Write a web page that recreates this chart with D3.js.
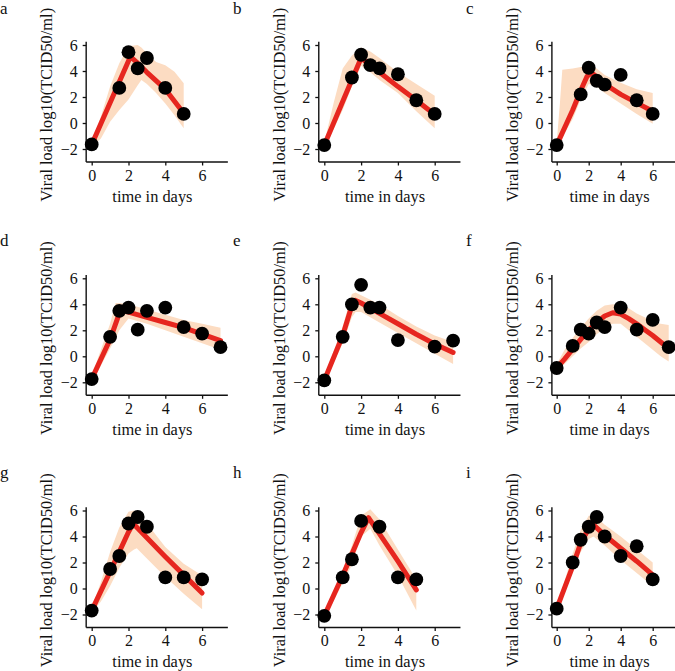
<!DOCTYPE html>
<html><head><meta charset="utf-8">
<script src="https://cdn.jsdelivr.net/npm/d3@7"></script>
<style>
html,body{margin:0;padding:0;background:#fff;}
svg{display:block;}
text{font-family:"Liberation Serif","Times New Roman",serif;fill:#111;}
</style></head>
<body>
<svg id="chart" width="675" height="671"></svg>
<script>
// ---------- data ----------
const panelLabels = ["a","b","c","d","e","f","g","h","i"];
const xTicks = [0, 2, 4, 6];
const yTicks = [-2, 0, 2, 4, 6];
const xTitle = "time in days";
const yTitle = "Viral load log10(TCID50/ml)";

const aDays = [0,1.5,2,2.5,3,4,5];
const aLoad = [-1.65,2.7,5.45,4.2,5.0,2.7,0.7];
const aFitDays = [0,2.1,2.5,3,4,5];
const aFit = [-1.65,5.1,4.6,3.9,2.6,0.75];
const aBandDays = [0,0.5,1,1.5,2,2.5,2.7,3,3.5,4,4.5,5];
const aUpper = [-1.5,0.5,2.8,4.6,5.9,6.0,5.8,5.35,4.7,4.45,3.95,3.05];
const aLower = [-1.8,-1.2,0.1,1.0,1.8,2.9,3.3,3.0,2.3,1.5,0.6,-0.4];

const bDays = [0,1.5,2,2.5,3,4,5,6];
const bLoad = [-1.7,3.5,5.25,4.45,4.2,3.75,1.75,0.7];
const bFitDays = [0,1,2,3,4,5,6];
const bFit = [-1.7,1.65,5.0,3.9,2.8,1.75,0.65];
const bBandDays = [0,0.5,1,1.5,2,2.5,3,4,5,6];
const bUpper = [-1.5,1.5,4.2,5.2,5.8,5.5,5.0,3.9,3.0,2.1];
const bLower = [-1.9,-0.5,1.0,2.8,4.4,3.9,3.3,2.3,0.9,-0.4];

const cDays = [0,1.5,2,2.5,3,4,5,6];
const cLoad = [-1.7,2.2,4.25,3.25,2.95,3.7,1.75,0.7];
const cFitDays = [0,1,1.5,1.9,2.2,3,4,5,6];
const cFit = [-1.7,1.0,2.5,3.6,3.85,3.0,2.2,1.55,0.9];
const cBandDays = [0,0.2,0.35,1,1.5,2,2.5,3,4,5,6];
const cUpper = [-1.5,1.5,4.1,4.2,4.3,4.4,4.2,3.7,3.1,2.6,2.3];
const cLower = [-1.8,-1.4,-1.1,0.3,1.8,3.0,2.8,2.3,1.5,0.7,-0.05];

const dDays = [0,1,1.5,2,2.5,3,4,5,6,7];
const dLoad = [-1.75,1.5,3.5,3.75,2.05,3.5,3.75,2.25,1.75,0.7];
const dFitDays = [0,1,1.5,1.7,2,3,4,5,6,7];
const dFit = [-1.75,1.3,3.3,3.5,3.4,3.0,2.6,2.2,1.7,1.2];
const dBandDays = [0,0.5,1,1.3,1.5,2,3,4,5,6,7];
const dUpper = [-1.5,0.5,2.5,4.1,4.1,4.0,3.6,3.2,2.8,2.5,2.2];
const dLower = [-2.0,-0.7,0.6,1.4,2.0,2.9,2.5,2.0,1.5,1.0,0.5];

const eDays = [0,1,1.5,2,2.5,3,4,6,7];
const eLoad = [-1.85,1.5,4.0,5.5,3.75,3.75,1.25,0.75,1.2];
const eFitDays = [0,1,1.5,1.7,2,3,4,5,6,7];
const eFit = [-1.85,1.6,3.9,4.3,4.1,3.3,2.5,1.7,0.95,0.3];
const eBandDays = [0,1,1.5,1.7,2,3,4,5,6,7];
const eUpper = [-1.6,2.3,4.8,4.9,4.7,4.0,3.1,2.3,1.6,1.1];
const eLower = [-2.1,1.0,3.0,3.4,3.4,2.6,1.8,1.0,0.2,-0.6];

const fDays = [0,1,1.5,2,2.5,3,4,5,6,7];
const fLoad = [-0.9,0.8,2.05,1.75,2.6,2.25,3.75,2.05,2.8,0.7];
const fFitDays = [0,0.5,1,1.5,2,2.5,3,3.5,4,4.5,5,5.5,6,6.5,7];
const fFit = [-0.9,-0.2,0.55,1.3,2.0,2.6,3.1,3.35,3.25,2.9,2.5,2.05,1.6,1.1,0.6];
const fBandDays = [0,0.5,1,1.5,2,2.5,3,3.5,4,4.5,5,5.5,6,6.5,7];
const fUpper = [-0.6,0.5,1.4,2.2,2.9,3.5,3.9,4.0,3.9,3.7,3.3,3.0,2.6,2.5,2.4];
const fLower = [-1.1,-0.6,0.0,0.6,1.1,1.7,2.2,2.5,2.5,2.0,1.5,1.0,0.5,0.0,-0.4];

const gDays = [0,1,1.5,2,2.5,3,4,5,6];
const gLoad = [-1.7,1.5,2.5,5.0,5.5,4.75,0.85,0.85,0.7];
const gFitDays = [0,1,2,2.25,3,4,5,6];
const gFit = [-1.7,1.3,4.35,5.0,3.9,2.45,1.05,-0.35];
const gBandDays = [0,0.5,1,1.5,2,2.3,2.45,3,3.5,4,5,6];
const gUpper = [-1.5,0.5,2.8,4.7,5.9,6.0,5.9,5.0,4.1,3.2,1.9,1.0];
const gLower = [-1.9,-1.0,0.2,1.6,2.7,3.0,3.1,2.3,1.6,0.9,-0.4,-1.6];

const hDays = [0,1,1.5,2,3,4,5];
const hLoad = [-2.1,0.85,2.25,5.2,4.75,0.85,0.7];
const hFitDays = [0,1,2,2.4,3,4,5];
const hFit = [-2.1,1.0,4.3,5.45,4.2,2.1,-0.1];
const hBandDays = [0,1,1.5,2,2.5,3,4,5];
const hUpper = [-1.9,1.4,3.3,5.6,6.1,5.3,3.0,0.7];
const hLower = [-2.3,0.4,1.8,4.0,4.6,3.3,1.0,-1.7];

const iDays = [0,1,1.5,2,2.5,3,4,5,6];
const iLoad = [-1.55,2.0,3.75,4.75,5.5,4.0,2.5,3.25,0.7];
const iFitDays = [0,1,1.5,2,2.3,3,4,5,6];
const iFit = [-1.55,1.7,3.5,4.6,4.9,4.1,3.1,2.1,1.05];
const iBandDays = [0,0.5,1,1.5,2,2.3,3,4,5,6];
const iUpper = [-1.3,0.6,2.7,4.5,5.6,5.7,4.9,4.0,3.0,2.0];
const iLower = [-1.8,-0.3,1.3,2.8,3.8,4.0,3.3,2.2,1.2,0.2];

// ---------- layout ----------
const colZero = [91.7, 324.3, 556.7];   // pixel of day 0
const colScale = [18.4, 18.4, 16.0];     // px per day
const rowZero = [123, 356.3, 588.5];     // pixel of load 0
const rowScale = 13;                     // px per log unit
const xDomain = [-0.3, 7.4];
const yDomain = [-3, 6.25];
const letterX = [0, 233, 466];
const letterY = [14, 246, 478];

const COLORS = {band: "#fcdcc2", line: "#e6261f", dot: "#000", axis: "#111"};

const panels = [
  [aDays,aLoad,aFitDays,aFit,aBandDays,aUpper,aLower],
  [bDays,bLoad,bFitDays,bFit,bBandDays,bUpper,bLower],
  [cDays,cLoad,cFitDays,cFit,cBandDays,cUpper,cLower],
  [dDays,dLoad,dFitDays,dFit,dBandDays,dUpper,dLower],
  [eDays,eLoad,eFitDays,eFit,eBandDays,eUpper,eLower],
  [fDays,fLoad,fFitDays,fFit,fBandDays,fUpper,fLower],
  [gDays,gLoad,gFitDays,gFit,gBandDays,gUpper,gLower],
  [hDays,hLoad,hFitDays,hFit,hBandDays,hUpper,hLower],
  [iDays,iLoad,iFitDays,iFit,iBandDays,iUpper,iLower]
];

const svg = d3.select("#chart");
const fmt = d => (d < 0 ? "\u2212" + Math.abs(d) : String(d));

panels.forEach((p, idx) => {
  const [days, load, fitDays, fit, bandDays, upper, lower] = p;
  const col = idx % 3, row = Math.floor(idx / 3);
  const x = d3.scaleLinear().domain(xDomain)
    .range([colZero[col] + xDomain[0]*colScale[col], colZero[col] + xDomain[1]*colScale[col]]);
  const y = d3.scaleLinear().domain(yDomain)
    .range([rowZero[row] - yDomain[0]*rowScale, rowZero[row] - yDomain[1]*rowScale]);
  const g = svg.append("g");

  // band
  const band = bandDays.map((t, k) => ({t, lo: lower[k], hi: upper[k]}));
  g.append("path").datum(band)
    .attr("d", d3.area().x(d => x(d.t)).y0(d => y(d.lo)).y1(d => y(d.hi)))
    .attr("fill", COLORS.band).attr("stroke", "none");

  // fit line
  const fitPts = fitDays.map((t, k) => ({t, v: fit[k]}));
  g.append("path").datum(fitPts)
    .attr("d", d3.line().x(d => x(d.t)).y(d => y(d.v)))
    .attr("fill", "none").attr("stroke", COLORS.line).attr("stroke-width", 5)
    .attr("stroke-linecap", "round").attr("stroke-linejoin", "round");

  // axes
  const xAxis = d3.axisBottom(x).tickValues(xTicks).tickSize(3.5).tickPadding(4).tickFormat(fmt);
  const yAxis = d3.axisLeft(y).tickValues(yTicks).tickSize(3.5).tickPadding(5).tickFormat(fmt);
  const gx = g.append("g").attr("transform", `translate(0,${y(yDomain[0])})`).call(xAxis);
  const gy = g.append("g").attr("transform", `translate(${x(xDomain[0])},0)`).call(yAxis);
  [gx, gy].forEach(ax => {
    ax.select(".domain").attr("stroke", COLORS.axis).attr("stroke-width", 1.4);
    ax.selectAll(".tick line").attr("stroke", COLORS.axis).attr("stroke-width", 1.3);
    ax.selectAll(".tick text").attr("font-family", "Liberation Serif").attr("font-size", 16).attr("fill", "#111");
  });
  gx.select(".domain").attr("d", `M${x(xDomain[0])},0H${x(xDomain[1])}`);
  gy.select(".domain").attr("d", `M0,${y(yDomain[0])}V${y(yDomain[1])}`);

  // points
  g.selectAll("circle.obs").data(days.map((t, k) => ({t, v: load[k]})))
    .enter().append("circle").attr("class", "obs")
    .attr("cx", d => x(d.t)).attr("cy", d => y(d.v)).attr("r", 6.9)
    .attr("fill", COLORS.dot);

  // titles
  g.append("text").attr("x", x(3.3)).attr("y", y(yDomain[0]) + 39.5)
    .attr("text-anchor", "middle").attr("font-size", 16.4).text(xTitle);
  g.append("text")
    .attr("transform", `translate(${x(xDomain[0]) - 34},${y(1.4)}) rotate(-90)`)
    .attr("text-anchor", "middle").attr("font-size", 16.4).text(yTitle);

  // panel letter
  svg.append("text").attr("x", letterX[col]).attr("y", letterY[row])
    .attr("font-size", 17).text(panelLabels[idx]);
});
</script>
</body></html>
